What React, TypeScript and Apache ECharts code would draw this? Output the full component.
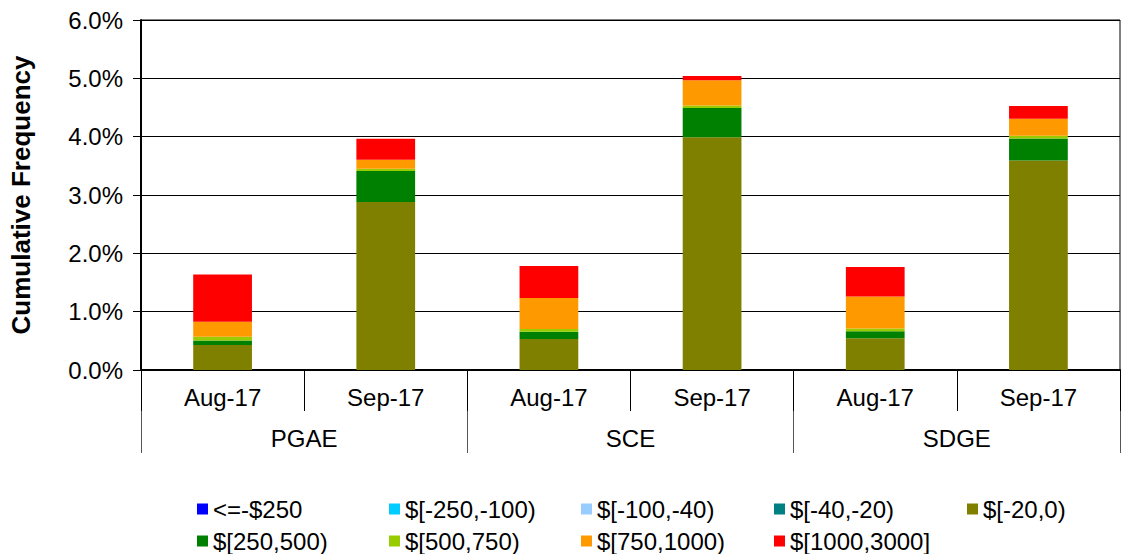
import React, { useEffect, useRef } from "react";
import * as echarts from "echarts";

const months = ["Aug-17", "Sep-17", "Aug-17", "Sep-17", "Aug-17", "Sep-17"];
const groups = ["PGAE", "SCE", "SDGE"];
const yTicks = [0, 1, 2, 3, 4, 5, 6];

const seriesNames = [
  "<=-$250",
  "$[-250,-100)",
  "$[-100,-40)",
  "$[-40,-20)",
  "$[-20,0)",
  "$[250,500)",
  "$[500,750)",
  "$[750,1000)",
  "$[1000,3000]",
];
const seriesColors = [
  "#0000FF",
  "#00CCFF",
  "#99CCFF",
  "#008080",
  "#808000",
  "#008000",
  "#99CC00",
  "#FF9900",
  "#FF0000",
];

const le250 = [0, 0, 0, 0, 0, 0];
const m250to100 = [0, 0, 0, 0, 0, 0];
const m100to40 = [0, 0, 0, 0, 0, 0];
const m40to20 = [0, 0, 0, 0, 0, 0];
const m20to0 = [0.43, 2.88, 0.53, 3.99, 0.545, 3.59];
const p250to500 = [0.074, 0.53, 0.125, 0.5, 0.12, 0.38];
const p500to750 = [0.064, 0.04, 0.05, 0.046, 0.045, 0.046];
const p750to1000 = [0.26, 0.155, 0.53, 0.43, 0.55, 0.29];
const p1000to3000 = [0.81, 0.36, 0.55, 0.074, 0.505, 0.22];

const seriesValues = [le250, m250to100, m100to40, m40to20, m20to0, p250to500, p500to750, p750to1000, p1000to3000];

const FONT = "'Liberation Sans', Arial, sans-serif";
const FS = 24;

// legend layout: columns and rows
const legendCols = [197, 389, 581, 774, 967];
const legendRows = [509, 541];

export default function App() {
  const ref = useRef<HTMLDivElement>(null);
  useEffect(() => {
    if (!ref.current) return;
    const chart = echarts.init(ref.current, undefined, { renderer: "svg" });
    const legends = seriesNames.map((name, i) => {
      const col = i < 5 ? i : i - 5;
      const row = i < 5 ? 0 : 1;
      return {
        show: true,
        left: legendCols[col],
        top: legendRows[row] - 13,
        padding: 0,
        itemWidth: 11,
        itemHeight: 11,
        selectedMode: false,
        icon: "rect",
        data: [name],
        textStyle: { fontFamily: FONT, fontSize: FS, color: "#000", lineHeight: 26 },
      };
    });
    chart.setOption({
      animation: false,
      backgroundColor: "#fff",
      textStyle: { fontFamily: FONT },
      legend: legends,
      grid: {
        left: 140,
        right: 3,
        top: 20,
        bottom: 184,
        show: true,
        borderColor: "#000",
        borderWidth: 1,
        containLabel: false,
      },
      xAxis: [
        {
          type: "category",
          data: months,
          position: "bottom",
          axisLine: { show: true, lineStyle: { color: "#000", width: 2 } },
          axisTick: { show: true, length: 41, interval: 0, lineStyle: { color: "#000", width: 1 } },
          axisLabel: { interval: 0, margin: 15, fontSize: FS, color: "#000", fontFamily: FONT },
          splitLine: { show: false },
        },
        {
          type: "category",
          data: groups,
          position: "bottom",
          offset: 41,
          axisLine: { show: false },
          axisTick: { show: true, length: 42, interval: 0, lineStyle: { color: "#555", width: 1 } },
          axisLabel: { interval: 0, margin: 15, fontSize: FS, color: "#000", fontFamily: FONT },
          splitLine: { show: false },
        },
      ],
      yAxis: {
        type: "value",
        min: yTicks[0],
        max: yTicks[yTicks.length - 1],
        interval: 1,
        name: "Cumulative Frequency",
        nameLocation: "middle",
        nameRotate: 90,
        nameGap: 107,
        nameTextStyle: { fontSize: 26, fontWeight: "bold", color: "#000", fontFamily: FONT },
        axisLine: { show: true, lineStyle: { color: "#000", width: 2 } },
        axisTick: { show: true, length: 8, lineStyle: { color: "#000" } },
        axisLabel: {
          fontSize: FS,
          color: "#000",
          margin: 18,
          fontFamily: FONT,
          formatter: (v: number) => v.toFixed(1) + "%",
        },
        splitLine: { show: true, lineStyle: { color: "#000", width: 1 } },
      },
      series: seriesNames.map((name, i) => ({
        name,
        type: "bar",
        stack: "total",
        xAxisIndex: 0,
        barWidth: "36%",
        itemStyle: { color: seriesColors[i] },
        data: seriesValues[i],
      })),
    });
    return () => chart.dispose();
  }, []);
  return (
    <div
      ref={ref}
      style={{ position: "fixed", left: 0, top: 0, width: 1123, height: 554, background: "#fff" }}
    />
  );
}
